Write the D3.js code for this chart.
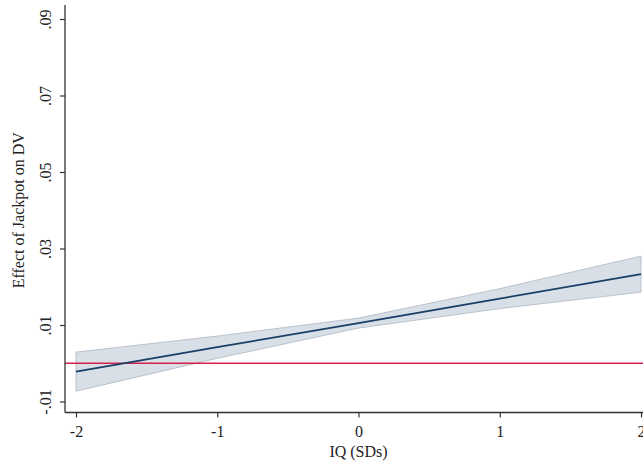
<!DOCTYPE html>
<html>
<head>
<meta charset="utf-8">
<script src="https://cdn.jsdelivr.net/npm/d3@7"></script>
<style>
  html, body { margin: 0; padding: 0; background: #fff; }
  svg { display: block; }
  text { font-family: "Liberation Serif", "Times New Roman", serif; fill: #222; }
</style>
</head>
<body>
<svg id="chart" width="643" height="466"></svg>
<script>
// Marginal effect of the jackpot across IQ, with 95% confidence band
const iq       = [-2, -1, 0, 1, 2];
const effect   = [-0.0022, 0.0042, 0.0105, 0.0169, 0.0233];
const ciLower  = [-0.0073, 0.0013, 0.0092, 0.0143, 0.0186];
const ciUpper  = [0.0029, 0.0071, 0.0118, 0.0195, 0.0280];
const xTicks   = [-2, -1, 0, 1, 2];
const xTickLabels = ["-2", "-1", "0", "1", "2"];
const yTicks   = [-0.01, 0.01, 0.03, 0.05, 0.07, 0.09];
const yTickLabels = ["-.01", ".01", ".03", ".05", ".07", ".09"];
const refLine  = 0;

const svg = d3.select("#chart");
const W = 643, H = 466;
const axisX = 65, axisY = 412.5, axisTop = 5;

const x = d3.scaleLinear().domain([-2, 2]).range([76, 641]);
const y = d3.scaleLinear().domain([-0.01, 0.09]).range([401.5, 19]);

const rows = iq.map((v, i) => ({ x: v, m: effect[i], lo: ciLower[i], hi: ciUpper[i] }));

// confidence band
svg.append("path")
  .datum(rows)
  .attr("d", d3.area().x(d => x(d.x)).y0(d => y(d.lo)).y1(d => y(d.hi)))
  .attr("fill", "#d8dfe7")
  .attr("stroke", "#b9c2cb")
  .attr("stroke-width", 1);

// reference line at zero
svg.append("line")
  .attr("x1", axisX).attr("x2", W)
  .attr("y1", y(refLine)).attr("y2", y(refLine))
  .attr("stroke", "#d4224c").attr("stroke-width", 1.6);

// point estimate
svg.append("path")
  .datum(rows)
  .attr("d", d3.line().x(d => x(d.x)).y(d => y(d.m)))
  .attr("fill", "none")
  .attr("stroke", "#1a3f66")
  .attr("stroke-width", 1.8);

// y axis
const yAxis = svg.append("g").attr("transform", `translate(${axisX},0)`)
  .call(d3.axisLeft(y).tickValues(yTicks).tickSize(5).tickPadding(8)
    .tickFormat((d, i) => yTickLabels[i]));
yAxis.select(".domain").remove();
yAxis.append("line").attr("x1", 0).attr("x2", 0).attr("y1", axisTop).attr("y2", axisY)
  .attr("stroke", "#333").attr("stroke-width", 1.3);
yAxis.selectAll(".tick line").attr("stroke", "#333").attr("stroke-width", 1.2);
yAxis.selectAll(".tick text")
  .attr("font-size", 16)
  .attr("text-anchor", "middle")
  .attr("x", 0).attr("dy", 0)
  .attr("transform", "translate(-18,0) rotate(-90)")
  .attr("dominant-baseline", "middle")
  .attr("fill", "#222");

// x axis
const xAxis = svg.append("g").attr("transform", `translate(0,${axisY})`)
  .call(d3.axisBottom(x).tickValues(xTicks).tickSize(5).tickPadding(8)
    .tickFormat((d, i) => xTickLabels[i]));
xAxis.select(".domain").remove();
xAxis.append("line").attr("x1", axisX).attr("x2", W).attr("y1", 0).attr("y2", 0)
  .attr("stroke", "#333").attr("stroke-width", 1.3);
xAxis.selectAll(".tick line").attr("stroke", "#333").attr("stroke-width", 1.2);
xAxis.selectAll(".tick text").attr("font-size", 16).attr("fill", "#222");

// axis titles
svg.append("text")
  .attr("x", x(0)).attr("y", 457)
  .attr("text-anchor", "middle")
  .attr("font-size", 16)
  .text("IQ (SDs)");

svg.append("text")
  .attr("transform", `translate(20,${y(0.04)}) rotate(-90)`)
  .attr("text-anchor", "middle")
  .attr("dominant-baseline", "middle")
  .attr("font-size", 16)
  .text("Effect of Jackpot on DV");
</script>
</body>
</html>
